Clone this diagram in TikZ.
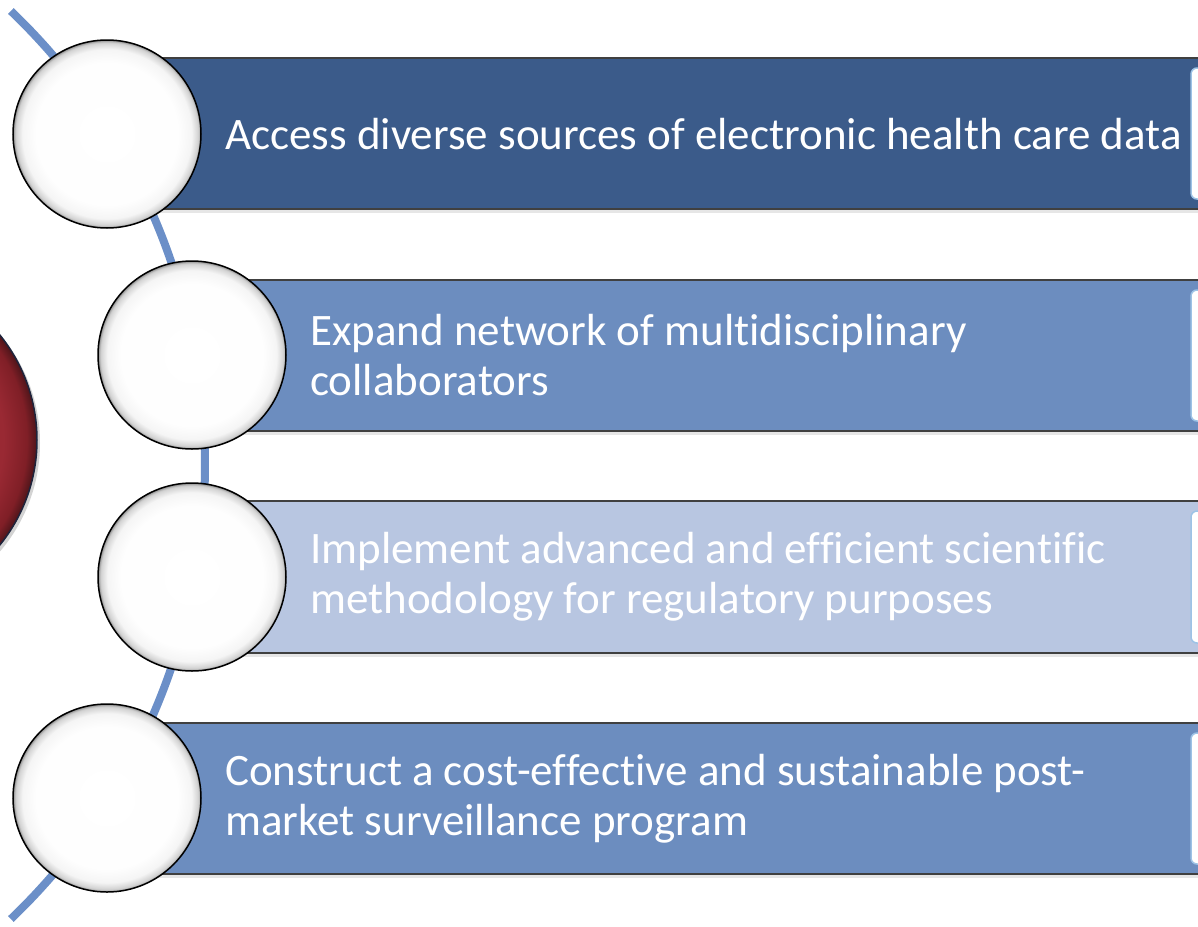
\documentclass[tikz,border=0pt]{standalone}
\usepackage{fontspec}
\newfontfamily\barfont[Ligatures=NoCommon]{Carlito}
\usepackage{tikz}
\usetikzlibrary{shapes,calc,shadows,positioning}
\definecolor{arcblue}{RGB}{107,143,200}
\definecolor{darkbar}{RGB}{59,91,138}
\definecolor{midbar}{RGB}{108,141,191}
\definecolor{lightbar}{RGB}{184,198,225}
\definecolor{tabblue}{RGB}{157,195,230}
\definecolor{hubrim}{RGB}{30,36,60}
\pgfdeclareradialshading{bubbleshade}{\pgfpoint{0bp}{0bp}}{rgb(0bp)=(1,1,1); rgb(19bp)=(0.995,0.995,0.995); rgb(22.5bp)=(0.96,0.96,0.96); rgb(24.3bp)=(0.82,0.82,0.82); rgb(25bp)=(0.55,0.55,0.55); rgb(50bp)=(0.55,0.55,0.55)}
\pgfdeclareradialshading{hubshade}{\pgfpoint{0bp}{0bp}}{rgb(0bp)=(0.62,0.17,0.21); rgb(20bp)=(0.6,0.16,0.2); rgb(23.5bp)=(0.5,0.12,0.15); rgb(25bp)=(0.3,0.08,0.1); rgb(50bp)=(0.3,0.08,0.1)}
\tikzstyle{bubble} = [circle, draw=black, line width=1.5pt, shading=bubbleshade, minimum size=188pt, inner sep=0pt]
\tikzstyle{hubdisc} = [circle, draw=hubrim, line width=1.5pt, shading=hubshade, minimum size=334pt, inner sep=0pt, drop shadow={opacity=0.35, shadow xshift=3pt, shadow yshift=-3pt}]
\tikzstyle{barbox} = [draw=black!75, line width=1.5pt, drop shadow={opacity=0.2, shadow xshift=0pt, shadow yshift=-4pt}]
\tikzstyle{endtab} = [draw=tabblue, line width=1.5pt, fill=white, rounded corners=6pt]
\tikzstyle{bartext} = [anchor=west, inner sep=0pt, align=left, text=white, font=\barfont\fontsize{45}{50}\selectfont]

\begin{document}
\begin{tikzpicture}[x=1pt,y=1pt]
    \pgfmathsetmacro{\barend}{1240};
    \useasboundingbox (0,0) rectangle (1198,-926);
    \clip (0,0) rectangle (1198,-926);
    \coordinate (hinge) at (-423,-465);
    \draw[arcblue, line width=8pt] (hinge) ++(46.3:628) arc[start angle=46.3, end angle=-46.3, radius=628];
    \node[hubdisc] (hub) at (-130,-440) {};
    \draw[barbox, fill=darkbar] (107,-58) rectangle (\barend,-209);
    \draw[barbox, fill=midbar] (192,-280) rectangle (\barend,-431);
    \draw[barbox, fill=lightbar] (192,-501) rectangle (\barend,-653);
    \draw[barbox, fill=midbar] (107,-723) rectangle (\barend,-874);
    \foreach \top/\bot in {68/199, 290/421, 511/643, 733/864}
      \draw[endtab] (1191,-\top) rectangle (\barend,-\bot);
    \node[bubble] (c1) at (107,-134) {};
    \node[bubble] (c2) at (192,-355) {};
    \node[bubble] (c3) at (192,-577) {};
    \node[bubble] (c4) at (107,-798) {};
    \node[bartext] (t1) at (225,-134) {Access diverse sources of electronic health care data};
    \node[bartext] (t2) at (310,-355) {Expand network of multidisciplinary\\collaborators};
    \node[bartext] (t3) at (310,-577) {Implement advanced and efficient scientific\\methodology for regulatory purposes};
    \node[bartext] (t4) at (225,-799) {Construct a cost-effective and sustainable post-\\market surveillance program};
    % \draw[->,arcblue] (hub) -- (c2);
\end{tikzpicture}
\end{document}
